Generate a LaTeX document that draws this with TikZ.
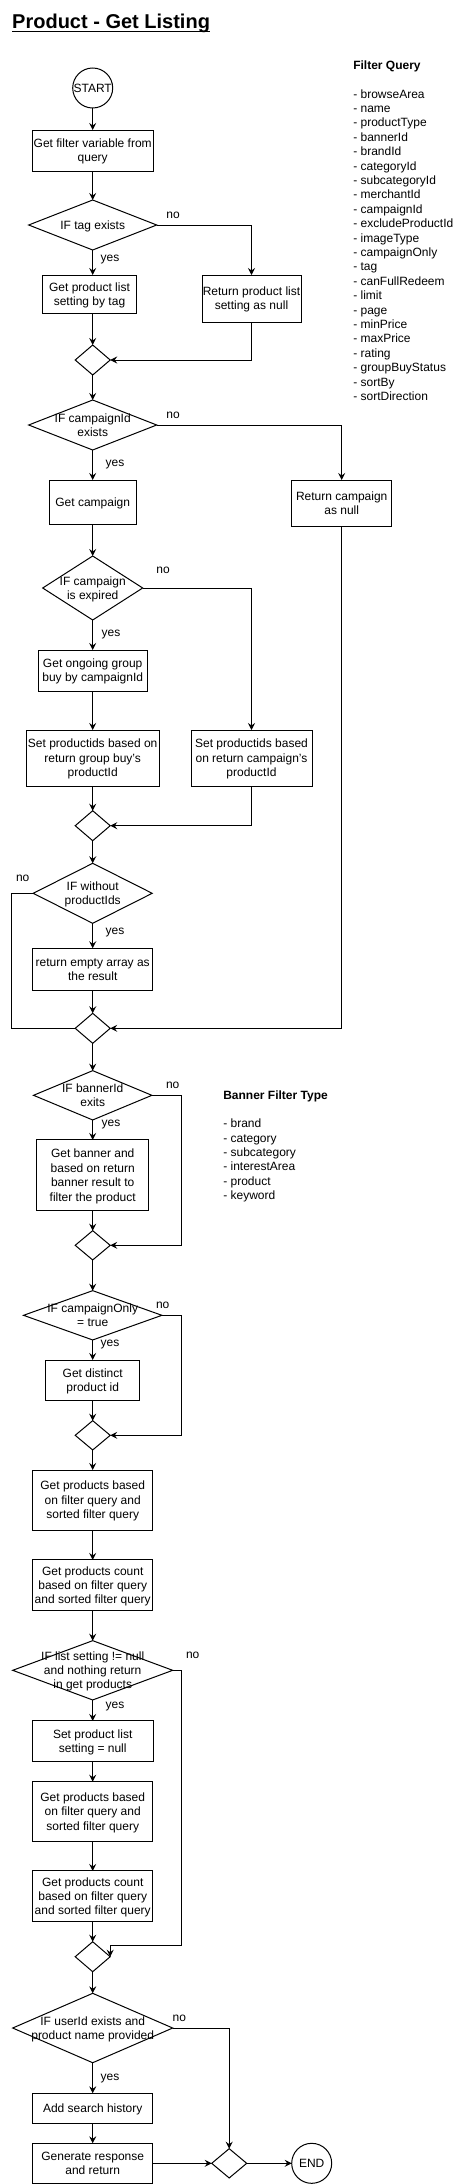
\documentclass[tikz,border=0pt]{standalone}
\usepackage{fontspec}
\setmainfont{Liberation Sans}
\usetikzlibrary{arrows.meta,shapes.geometric}
\newcommand\lnstrut{\rule[-2.5pt]{0pt}{13.4pt}}
\begin{document}
\begin{tikzpicture}[x=1pt,y=-1pt]
\tikzset{
  txt/.style={font=\fontsize{12}{14.4}\selectfont, inner sep=0pt, outer sep=0pt},
  lstr/.style={execute at end node=\lnstrut},
  proc/.style={txt, lstr, draw, line width=1pt, align=center, rectangle},
  dec/.style={draw, line width=1pt, diamond, inner sep=0pt, outer sep=0pt},
  dtxt/.style={txt, lstr, align=center},
  term/.style={draw, circle, line width=1pt, minimum size=40pt, inner sep=0pt, outer sep=0pt},
  lbl/.style={txt},
  conn/.style={line width=1pt, -{Stealth[length=7pt,width=7pt,inset=2.5pt]}},
  noarr/.style={line width=1pt},
}
\useasboundingbox (0,0) rectangle (472,2184);

% title
\node[anchor=base west, font=\fontsize{20}{24}\selectfont\bfseries, inner sep=0pt] (title) at (12,28.3) {Product - Get Listing};
\draw[line width=1.5pt] ([yshift=-3.2pt]title.base west) -- ([yshift=-3.2pt]title.base east);

% side notes
\node[txt, anchor=base west, font=\fontsize{12}{14.4}\selectfont\bfseries] (fqh) at (353.3,70) {Filter Query};
\node[txt, lstr, anchor=north west, align=left] (fql) at (353.3,87.1) {\lnstrut- browseArea\\- name\\- productType\\- bannerId\\- brandId\\- categoryId\\- subcategoryId\\- merchantId\\- campaignId\\- excludeProductId\\- imageType\\- campaignOnly\\- tag\\- canFullRedeem\\- limit\\- page\\- minPrice\\- maxPrice\\- rating\\- groupBuyStatus\\- sortBy\\- sortDirection};
\node[txt, anchor=base west, font=\fontsize{12}{14.4}\selectfont\bfseries] (bfh) at (223.3,1099.3) {Banner Filter Type};
\node[txt, lstr, anchor=north west, align=left] (bfl) at (223.3,1116.8) {\lnstrut- brand\\- category\\- subcategory\\- interestArea\\- product\\- keyword};

% nodes
\node[term] (start) at (92.7,88) {};
\node[txt] at (start) {START};
\node[proc, minimum width=121pt, minimum height=41pt] (b1) at (92.7,150.5) {\lnstrut Get filter variable from\\query};
\node[dec, minimum width=128pt, minimum height=50pt] (d1) at (92.7,225) {};
\node[dtxt] at (d1) {\lnstrut IF tag exists};
\node[proc, minimum width=94.3pt, minimum height=38pt] (b2) at (89.5,294) {\lnstrut Get product list\\setting by tag};
\node[proc, minimum width=99pt, minimum height=47pt] (b3) at (251.5,298.5) {\lnstrut Return product list\\setting as null};
\node[dec, minimum width=35pt, minimum height=30pt] (m1) at (92.7,360) {};
\node[dec, minimum width=128pt, minimum height=50pt] (d2) at (92.7,425) {};
\node[dtxt] at (d2) {\lnstrut IF campaignId\\exists};
\node[proc, minimum width=87pt, minimum height=44pt] (b4) at (92.7,502) {\lnstrut Get campaign};
\node[proc, minimum width=100pt, minimum height=46pt] (b5) at (341.7,503) {\lnstrut Return campaign\\as null};
\node[dec, minimum width=100pt, minimum height=64pt] (d3) at (92.7,588) {};
\node[dtxt] at (d3) {\lnstrut IF campaign\\is expired};
\node[proc, minimum width=109pt, minimum height=41pt] (b6) at (92.7,670.5) {\lnstrut Get ongoing group\\buy by campaignId};
\node[proc, minimum width=133pt, minimum height=56pt] (b7) at (92.7,758) {\lnstrut Set productids based on\\return group buy's\\productId};
\node[proc, minimum width=121pt, minimum height=56pt] (b8) at (251.5,758) {\lnstrut Set productids based\\on return campaign's\\productId};
\node[dec, minimum width=35pt, minimum height=30pt] (m2) at (92.7,825.7) {};
\node[dec, minimum width=119pt, minimum height=60pt] (d4) at (92.7,893.3) {};
\node[dtxt] at (d4) {\lnstrut IF without\\productIds};
\node[proc, minimum width=120.4pt, minimum height=42.4pt] (b9) at (92.7,969.5) {\lnstrut return empty array as\\the result};
\node[dec, minimum width=35pt, minimum height=30pt] (m3) at (92.7,1028.3) {};
\node[dec, minimum width=118.4pt, minimum height=49.3pt] (d5) at (92.7,1095.3) {};
\node[dtxt] at (d5) {\lnstrut IF bannerId\\exits};
\node[proc, minimum width=111.6pt, minimum height=70.7pt] (b10) at (92.7,1175.3) {\lnstrut Get banner and\\based on return\\banner result to\\filter the product};
\node[dec, minimum width=35pt, minimum height=29.3pt] (m4) at (92.7,1245.3) {};
\node[dec, minimum width=138.4pt, minimum height=49.3pt] (d6) at (92.7,1315.3) {};
\node[dtxt] at (d6) {\lnstrut IF campaignOnly\\= true};
\node[proc, minimum width=94.3pt, minimum height=40pt] (b11) at (92.7,1380) {\lnstrut Get distinct\\product id};
\node[dec, minimum width=35pt, minimum height=29.3pt] (m5) at (92.7,1435.3) {};
\node[proc, minimum width=120.4pt, minimum height=60pt] (b12) at (92.7,1500) {\lnstrut Get products based\\on filter query and\\sorted filter query};
\node[proc, minimum width=120.4pt, minimum height=50.7pt] (b13) at (92.7,1585.3) {\lnstrut Get products count\\based on filter query\\and sorted filter query};
\node[dec, minimum width=160pt, minimum height=59.3pt] (d7) at (92.7,1670.3) {};
\node[dtxt] at (d7) {\lnstrut IF list setting != null\\and nothing return\\in get products};
\node[proc, minimum width=120.7pt, minimum height=40.7pt] (b14) at (92.7,1741.3) {\lnstrut Set product list\\setting = null};
\node[proc, minimum width=120.4pt, minimum height=60pt] (b15) at (92.7,1811.7) {\lnstrut Get products based\\on filter query and\\sorted filter query};
\node[proc, minimum width=120.4pt, minimum height=50.7pt] (b16) at (92.7,1896.3) {\lnstrut Get products count\\based on filter query\\and sorted filter query};
\node[dec, minimum width=35pt, minimum height=30pt] (m6) at (92.7,1956.7) {};
\node[dec, minimum width=160pt, minimum height=69.4pt] (d8) at (92.7,2028) {};
\node[dtxt] at (d8) {\lnstrut IF userId exists and\\product name provided};
\node[proc, minimum width=120.4pt, minimum height=30pt] (b17) at (92.7,2108.3) {\lnstrut Add search history};
\node[proc, minimum width=120.4pt, minimum height=40pt] (b18) at (92.7,2163.3) {\lnstrut Generate response\\and return};
\node[dec, minimum width=35pt, minimum height=29.3pt] (m7) at (229.2,2163.3) {};
\node[term] (end) at (311.7,2163.3) {};
\node[txt] at (end) {END};

% connectors
\draw[conn] (start.south) -- (start.south |- b1.north);
\draw[conn] (b1.south) -- (b1.south |- d1.north);
\draw[conn] (d1.south) -- (d1.south |- b2.north);
\draw[conn] (d1.east) -| (b3.north);
\draw[conn] (d1.south |- b2.south) -- (m1.north);
\draw[conn] (b3.south) |- (m1.east);
\draw[conn] (m1.south) -- (d2.north);
\draw[conn] (d2.south) -- (b4.north);
\draw[conn] (d2.east) -| (b5.north);
\draw[conn] (b4.south) -- (d3.north);
\draw[conn] (d3.south) -- (b6.north);
\draw[conn] (d3.east) -| (b8.north);
\draw[conn] (b6.south) -- (b7.north);
\draw[conn] (b7.south) -- (m2.north);
\draw[conn] (b8.south) |- (m2.east);
\draw[conn] (m2.south) -- (d4.north);
\draw[conn] (d4.south) -- (b9.north);
\coordinate (k4) at (11.7,893.3);
\draw[noarr] (d4.west) -- (k4) |- (m3.west);
\draw[conn] (b9.south) -- (m3.north);
\draw[conn] (b5.south) |- (m3.east);
\draw[conn] (m3.south) -- (d5.north);
\draw[conn] (d5.south) -- (b10.north);
\coordinate (k5) at (181.7,1095.3);
\draw[conn] (d5.east) -- (k5) |- (m4.east);
\draw[conn] (b10.south) -- (m4.north);
\draw[conn] (m4.south) -- (d6.north);
\draw[conn] (d6.south) -- (b11.north);
\coordinate (k6) at (181.7,1315.3);
\draw[conn] (d6.east) -- (k6) |- (m5.east);
\draw[conn] (b11.south) -- (m5.north);
\draw[conn] (m5.south) -- (b12.north);
\draw[conn] (b12.south) -- (b13.north);
\draw[conn] (b13.south) -- (d7.north);
\draw[conn] (d7.south) -- (b14.north);
\coordinate (k7a) at (181.7,1670.3);
\coordinate (k7b) at (181.7,1945.7);
\draw[conn] (d7.east) -- (k7a) -- (k7b) -- (k7b -| m6.east) -- (m6.east);
\draw[conn] (b14.south) -- (b15.north);
\draw[conn] (b15.south) -- (b16.north);
\draw[conn] (b16.south) -- (m6.north);
\draw[conn] (m6.south) -- (d8.north);
\draw[conn] (d8.south) -- (b17.north);
\draw[conn] (d8.east) -| (m7.north);
\draw[conn] (b17.south) -- (b18.north);
\draw[conn] (b18.east) -- (m7.west);
\draw[conn] (m7.east) -- (end.west);

% labels
\node[lbl] (n1) at (173,215) {no};
\node[lbl] (y1) at (110,260) {yes};
\node[lbl] (n2) at (173,415) {no};
\node[lbl] (y2) at (115,465) {yes};
\node[lbl] (n3) at (163,570) {no};
\node[lbl] (y3) at (111,635) {yes};
\node[lbl] (n4) at (22.7,878.3) {no};
\node[lbl] (y4) at (115,932.7) {yes};
\node[lbl] (n5) at (172.7,1085) {no};
\node[lbl] (y5) at (111,1125) {yes};
\node[lbl] (n6) at (162.7,1305) {no};
\node[lbl] (y6) at (110,1345) {yes};
\node[lbl] (n7) at (192.7,1655) {no};
\node[lbl] (y7) at (115,1706) {yes};
\node[lbl] (n8) at (179.3,2018.3) {no};
\node[lbl] (y8) at (110,2078.3) {yes};
\end{tikzpicture}
\end{document}
